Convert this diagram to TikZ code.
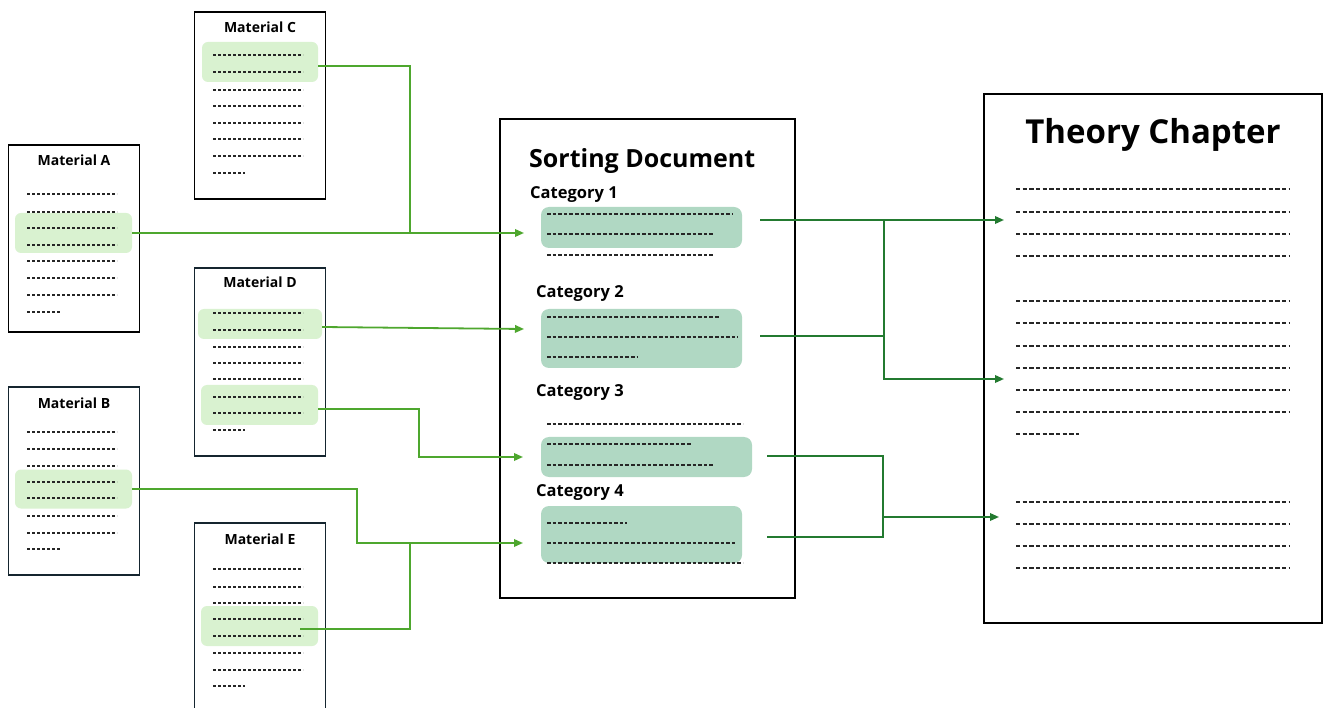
\documentclass[tikz,border=0pt]{standalone}
\usepackage{fontspec}
\setmainfont{Open Sans}
\usetikzlibrary{arrows.meta}
\definecolor{hlgreen}{HTML}{D9F2D0}
\definecolor{catfill}{HTML}{B0D8C3}
\definecolor{lgreen}{HTML}{4EA72E}
\definecolor{dgreen}{HTML}{237A30}
\definecolor{slate}{HTML}{15252F}
\definecolor{dashgray}{HTML}{262626}
\begin{document}
\begin{tikzpicture}[x=1pt,y=-1pt,
  matbox/.style={draw=#1,line width=1.8pt,fill=white,inner sep=0pt,minimum width=131pt},
  matbox/.default=black,
  mtitle/.style={font=\bfseries\fontsize{14}{16}\selectfont,inner sep=0pt},
  hl/.style={fill=hlgreen,rounded corners=6pt,inner sep=0pt},
  catbox/.style={fill=catfill,rounded corners=8pt,inner sep=0pt},
  catlabel/.style={font=\bfseries\fontsize{16.5}{18}\selectfont,inner sep=0pt,anchor=base west},
  bigbox/.style={draw=black,line width=1.5pt,fill=white,inner sep=0pt},
  mdash/.style={dashgray,line width=1.1pt,dash pattern=on 3.2pt off 1.8pt},
  sdash/.style={dashgray,line width=1.2pt,dash pattern=on 3.6pt off 2pt},
  tdash/.style={dashgray,line width=1.3pt,dash pattern=on 4.4pt off 2.25pt},
  lconn/.style={lgreen,line width=1.8pt},
  rconn/.style={dgreen,line width=1.8pt},
  tip/.style={-{Triangle[length=9pt,width=7.5pt]}}]
\useasboundingbox (0,0) rectangle (1323,708);
\clip (0,0) rectangle (1323,708);

% ---------- source materials ----------
\node[matbox,minimum height=187pt] (matA) at (74,238.5) {};
\node[matbox,minimum height=187pt] (matC) at (260,105.5) {};
\node[matbox=slate,minimum height=188pt] (matD) at (260,362) {};
\node[matbox=slate,minimum height=188pt] (matB) at (74,481) {};
\node[matbox=slate,minimum height=192pt] (matE) at (260,619) {};

\node[mtitle] (tA) at (matA.north |- 0,160) {Material A};
\node[mtitle] (tC) at (matC.north |- 0,27) {Material C};
\node[mtitle] (tD) at (matD.north |- 0,282) {Material D};
\node[mtitle] (tB) at (matB.north |- 0,403) {Material B};
\node[mtitle] (tE) at (matE.north |- 0,539) {Material E};

% highlighted passages
\node[hl,minimum width=117pt,minimum height=40pt] (hlA) at (73.5,233) {};
\node[hl,minimum width=116pt,minimum height=40pt] (hlC) at (260,62) {};
\node[hl,minimum width=124pt,minimum height=30pt] (hlD1) at (260,324) {};
\node[hl,minimum width=117pt,minimum height=40pt] (hlD2) at (259.5,405) {};
\node[hl,minimum width=117pt,minimum height=39pt] (hlB) at (73.5,489) {};
\node[hl,minimum width=117pt,minimum height=40pt] (hlE) at (259.5,626) {};

% placeholder text lines
\foreach \y in {194,212,228,245,261,278,295} \draw[mdash] (27,\y) -- (117,\y);
\draw[mdash] (27,312) -- (60,312);
\foreach \y in {55,72,90,106,123,139,156} \draw[mdash] (213,\y) -- (303,\y);
\draw[mdash] (213,173) -- (245,173);
\foreach \y in {313,330,347,363,379,397,413} \draw[mdash] (213,\y) -- (303,\y);
\draw[mdash] (213,430) -- (245,430);
\foreach \y in {432,449,466,482,498,516,533} \draw[mdash] (27,\y) -- (117,\y);
\draw[mdash] (27,549) -- (60,549);
\foreach \y in {569,587,603,619,636,653,670} \draw[mdash] (213,\y) -- (303,\y);
\draw[mdash] (213,686) -- (245,686);

% ---------- sorting document ----------
\node[bigbox,minimum width=295pt,minimum height=479pt] (sortdoc) at (647.5,358.5) {};
\node[font=\bfseries\fontsize{25}{28}\selectfont,inner sep=0pt,anchor=base west] (sorttitle) at (529,168) {Sorting Document};

\node[catlabel] (l1) at (530,199) {Category 1};
\node[catlabel] (l2) at (536,298) {Category 2};
\node[catlabel] (l3) at (536,397) {Category 3};
\node[catlabel] (l4) at (536,496) {Category 4};

\node[catbox,minimum width=201pt,minimum height=41pt] (cat1) at (641.5,227.5) {};
\node[catbox,minimum width=201pt,minimum height=59pt] (cat2) at (641.5,338.5) {};
\node[catbox,minimum width=211pt,minimum height=40pt] (cat3) at (646.5,457) {};
\node[catbox,minimum width=201pt,minimum height=57pt] (cat4) at (641.5,534.5) {};

\draw[sdash] (547,214) -- (732,214);
\draw[sdash] (547,234) -- (714,234);
\draw[sdash] (547,255) -- (714,255);
\draw[sdash] (547,317) -- (720,317);
\draw[sdash] (547,337) -- (738,337);
\draw[sdash] (547,357) -- (638,357);
\draw[sdash] (547,424) -- (743,424);
\draw[sdash] (547,444) -- (692,444);
\draw[sdash] (547,465) -- (714,465);
\draw[sdash] (547,523) -- (627,523);
\draw[sdash] (547,543) -- (737,543);
\draw[sdash] (547,563) -- (743,563);

% ---------- theory chapter ----------
\node[bigbox,minimum width=338pt,minimum height=529pt] (theory) at (1153,358.5) {};
\node[font=\bfseries\fontsize{33}{38}\selectfont,inner sep=0pt,anchor=base] (theorytitle) at (1153,144) {Theory Chapter};
\foreach \y in {189,212,234,256,301,323,346,368,390,412,502,524,546,568}
  \draw[tdash] (1016,\y) -- (1289,\y);
\draw[tdash] (1016,434) -- (1079,434);

% ---------- connectors: materials -> categories ----------
\coordinate (in1) at (524,233);
\coordinate (in2) at (524,329);
\coordinate (in3) at (523,457);
\coordinate (in4) at (523,543);
\coordinate (jC) at (410,233);
\coordinate (jE) at (410,543);

\draw[lconn,tip] (hlA.east) -- (in1);
\draw[lconn] ([yshift=-4pt]hlC.east) -| (jC);
\draw[lconn,tip] ([yshift=-3pt]hlD1.east) -- (in2);
\draw[lconn,tip] ([yshift=-4pt]hlD2.east) -- (419,409) -- (419,457) -- (in3);
\draw[lconn,tip] (hlB.east) -- (357,489) -- (357,543) -- (in4);
\draw[lconn] ([xshift=-18pt,yshift=-3pt]hlE.east) -| (jE);

% ---------- connectors: categories -> theory chapter ----------
\coordinate (o1) at (760,220);
\coordinate (o2) at (760,336);
\coordinate (o3) at (767,456);
\coordinate (o4) at (767,537);
\coordinate (t1) at (1004,220);
\coordinate (t2) at (1004,379);
\coordinate (t3) at (999,517);

\draw[rconn,tip] (o1) -- (t1);
\draw[rconn] (o2) -- (884,336);
\draw[rconn,tip] (884,220) -- (884,379) -- (t2);
\draw[rconn] (o3) -- (883,456) -- (883,537) -- (o4);
\draw[rconn,tip] (883,517) -- (t3);
\end{tikzpicture}
\end{document}
